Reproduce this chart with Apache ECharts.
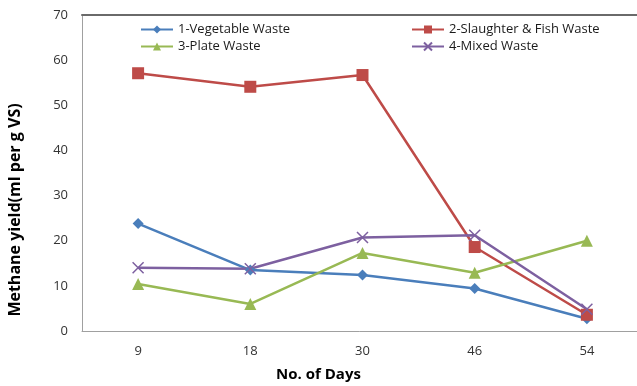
<!DOCTYPE html>
<html>
<head>
<meta charset="utf-8">
<script src="https://cdn.jsdelivr.net/npm/echarts@6/dist/echarts.min.js"></script>
<style>
  html, body { margin: 0; padding: 0; background: #fff; }
  #chart { width: 637px; height: 386px; }
</style>
</head>
<body>
<div id="chart"></div>
<script>
// Sampling days
const days = ['9', '18', '30', '46', '54'];

// Methane yield (ml per g VS) per waste type
const vegetableWaste = [23.8, 13.5, 12.4, 9.4, 2.7];
const slaughterFishWaste = [57.1, 54.1, 56.7, 18.6, 3.6];
const plateWaste = [10.4, 6.0, 17.3, 12.9, 20.0];
const mixedWaste = [14.0, 13.8, 20.7, 21.2, 4.8];

const seriesNames = ['1-Vegetable Waste', '2-Slaughter & Fish Waste', '3-Plate Waste', '4-Mixed Waste'];

const FONT = '"Open Sans", "Liberation Sans", sans-serif';
const crossPath = 'path://M0,0L10,10M10,0L0,10';

const chart = echarts.init(document.getElementById('chart'), null, { renderer: 'canvas' });

function lineSeries(name, data, color, symbol, size, extraItemStyle) {
  return {
    name: name,
    type: 'line',
    data: data,
    symbol: symbol,
    symbolSize: size,
    showSymbol: true,
    lineStyle: { color: color, width: 2.5 },
    itemStyle: Object.assign({ color: color }, extraItemStyle || {}),
    emphasis: { disabled: true },
    z: 2
  };
}

const legendText = { fontFamily: FONT, fontSize: 13, color: '#1a1a1a' };

chart.setOption({
  backgroundColor: '#ffffff',
  animation: false,
  textStyle: { fontFamily: FONT },
  // plot area runs slightly past the right edge of the canvas
  grid: { left: 82, top: 15, height: 316, width: 561, containLabel: false, outerBoundsMode: 'none' },
  legend: [
    {
      data: [seriesNames[0], seriesNames[2]],
      orient: 'vertical',
      left: 140, top: 23, padding: 0,
      itemWidth: 32, itemHeight: 10, itemGap: 4,
      textStyle: legendText
    },
    {
      data: [seriesNames[1], seriesNames[3]],
      orient: 'vertical',
      left: 411, top: 23, padding: 0,
      itemWidth: 32, itemHeight: 10, itemGap: 4,
      textStyle: legendText
    }
  ],
  xAxis: [
    {
      type: 'category',
      data: days,
      boundaryGap: true,
      name: 'No. of Days',
      nameLocation: 'middle',
      nameGap: 36,
      nameTextStyle: { fontFamily: FONT, fontSize: 15, fontWeight: 'bold', color: '#000', padding: [0, 88, 0, 0] },
      axisLine: { lineStyle: { color: '#a0a0a0', width: 1 } },
      axisTick: { show: false },
      axisLabel: { fontFamily: FONT, fontSize: 13, color: '#333', margin: 14 },
      splitLine: { show: false }
    },
    {
      type: 'category',
      data: days,
      position: 'top',
      axisLine: { lineStyle: { color: '#6a6a6a', width: 2 } },
      axisTick: { show: false },
      axisLabel: { show: false },
      splitLine: { show: false }
    }
  ],
  yAxis: {
    type: 'value',
    min: 0, max: 70, interval: 10,
    name: 'Methane yield(ml per g VS)',
    nameLocation: 'middle',
    nameGap: 59,
    nameTextStyle: { fontFamily: FONT, fontSize: 16, fontWeight: 'bold', color: '#000', padding: [0, 74, 0, 0] },
    axisLine: { show: true, lineStyle: { color: '#a0a0a0', width: 1 } },
    axisTick: { show: false },
    axisLabel: { fontFamily: FONT, fontSize: 13, color: '#333', margin: 14 },
    splitLine: { show: false }
  },
  series: [
    lineSeries(seriesNames[0], vegetableWaste, '#4a7ebb', 'diamond', 11),
    lineSeries(seriesNames[1], slaughterFishWaste, '#be4b48', 'rect', 12),
    lineSeries(seriesNames[2], plateWaste, '#98b954', 'triangle', 12),
    lineSeries(seriesNames[3], mixedWaste, '#7d60a0', crossPath, 11, { borderColor: '#7d60a0', borderWidth: 1.5 })
  ]
});
</script>
</body>
</html>
